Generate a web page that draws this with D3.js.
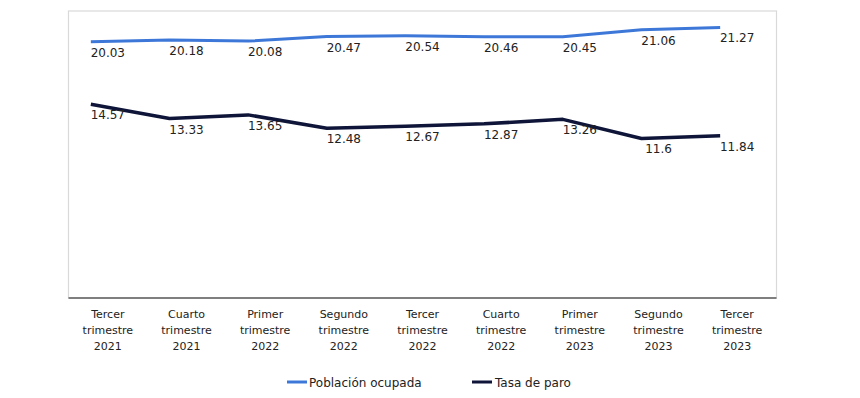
<!DOCTYPE html>
<html><head><meta charset="utf-8">
<script src="https://cdn.jsdelivr.net/npm/d3@7"></script>
<style>body{margin:0;background:#fff}svg{display:block}text{font-family:"DejaVu Sans",Verdana,sans-serif}</style>
</head><body><svg id="c" width="860" height="398"></svg>
<script>
const categories = [
  ["Tercer","trimestre","2021"],["Cuarto","trimestre","2021"],["Primer","trimestre","2022"],
  ["Segundo","trimestre","2022"],["Tercer","trimestre","2022"],["Cuarto","trimestre","2022"],
  ["Primer","trimestre","2023"],["Segundo","trimestre","2023"],["Tercer","trimestre","2023"]
];
const poblacionOcupada = [20.03,20.18,20.08,20.47,20.54,20.46,20.45,21.06,21.27];
const tasaParo = [14.57,13.33,13.65,12.48,12.67,12.87,13.26,11.6,11.84];
const seriesNames = ["Población ocupada","Tasa de paro"];
const seriesColors = ["#3D78D8","#0E1538"];

const svg = d3.select("#c");
const L=68.5, R=776.5, T=11, B=298;
const x = d3.scaleBand().domain(d3.range(categories.length)).range([L,R]);
const y = d3.scaleLinear().domain([-2.3,22.7]).range([B,T]);
const ptOffset = -17;
const px = i => x(i)+x.bandwidth()/2+ptOffset;
const lx = i => x(i)+x.bandwidth()/2;

// plot frame
svg.append("rect").attr("x",L).attr("y",T).attr("width",R-L).attr("height",B-T)
  .attr("fill","#fff").attr("stroke","#d9d9d9").attr("stroke-width",1.2);
// bottom axis line
svg.append("line").attr("x1",L).attr("x2",R).attr("y1",B).attr("y2",B)
  .attr("stroke","#7f7f7f").attr("stroke-width",2);

// x axis labels
const xa = svg.append("g");
categories.forEach((c,i)=>{
  const t = xa.append("text").attr("x",lx(i)).attr("y",318).attr("text-anchor","middle")
    .attr("font-size","11px").attr("fill","#222");
  c.forEach((s,k)=>t.append("tspan").attr("x",lx(i)).attr("dy",k?16:0).text(s));
});

const line = d3.line().x((d,i)=>px(i)).y(d=>y(d));
[poblacionOcupada,tasaParo].forEach((vals,si)=>{
  svg.append("path").datum(vals).attr("d",line).attr("fill","none")
    .attr("stroke",seriesColors[si]).attr("stroke-width",si?3.5:3)
    .attr("stroke-linejoin","round");
});
[poblacionOcupada,tasaParo].forEach((vals,si)=>{
  svg.append("g").selectAll("text").data(vals).join("text")
    .attr("x",(d,i)=>lx(i)).attr("y",d=>y(d)+15).attr("text-anchor","middle")
    .attr("font-size","12px").attr("fill","#222").text(d=>String(d));
});

// legend
const leg = [[287,309],[472,495]];
seriesNames.forEach((n,i)=>{
  svg.append("line").attr("x1",leg[i][0]).attr("x2",leg[i][0]+20).attr("y1",382).attr("y2",382)
    .attr("stroke",seriesColors[i]).attr("stroke-width",3);
  svg.append("text").attr("x",leg[i][1]).attr("y",386.5).attr("font-size","12px").attr("fill","#222").text(n);
});
</script></body></html>
